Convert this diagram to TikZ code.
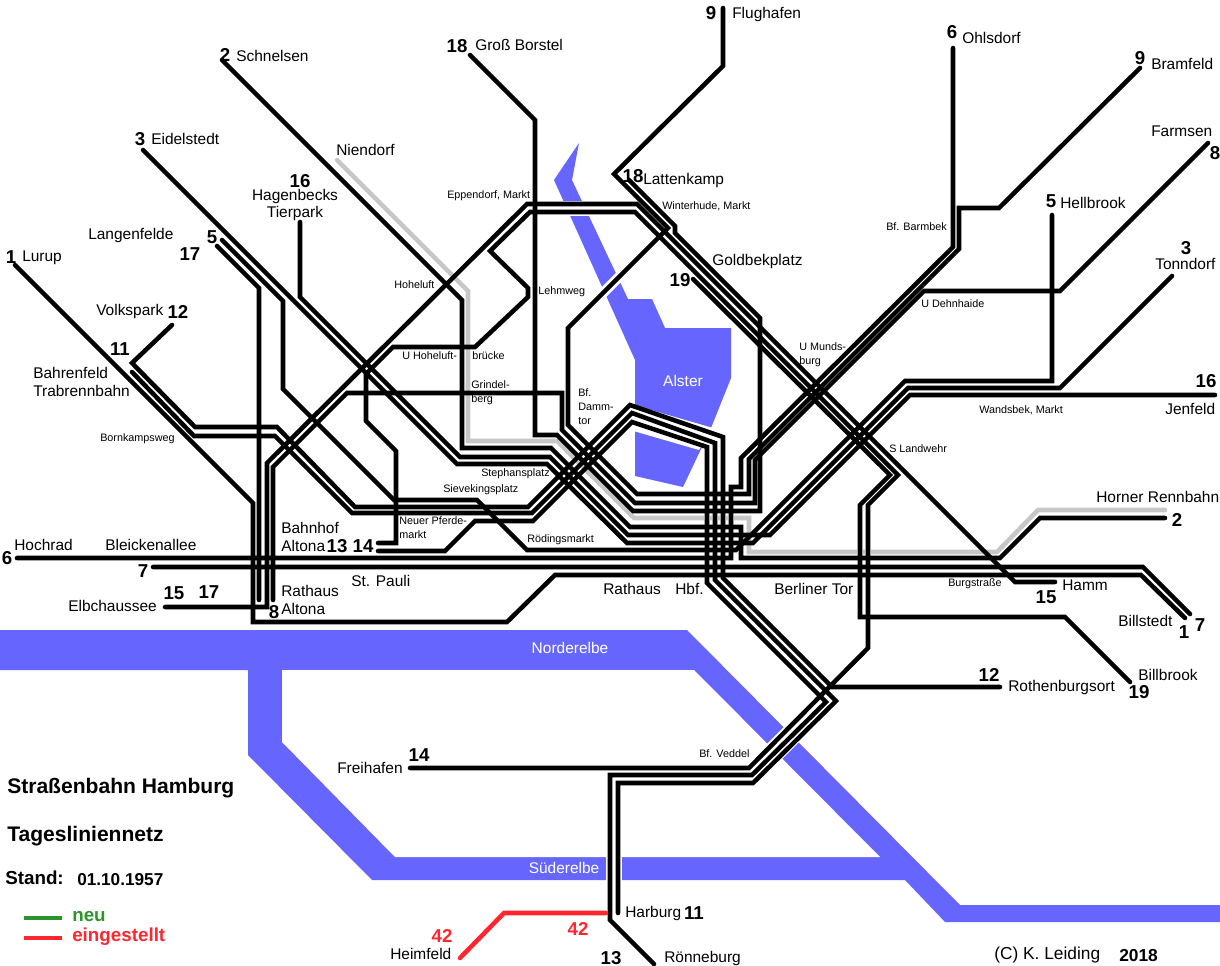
\documentclass[tikz,border=0pt]{standalone}
\usepackage{fontspec}
\setmainfont{Liberation Sans}
\definecolor{elbe}{RGB}{102,102,255}
\definecolor{neugruen}{RGB}{42,150,42}
\definecolor{altrot}{RGB}{255,38,46}
\begin{document}
\begin{tikzpicture}[x=0.75pt,y=-0.75pt,line join=miter]
  \tikzstyle{tram}=[draw=black,line width=3.4pt,line cap=round]
  \tikzstyle{gone}=[draw=black!22,line width=3.4pt,line cap=round]
  \tikzstyle{halo}=[draw=white,line width=4.9pt]
  \tikzstyle{river}=[fill=elbe,draw=none]
  \tikzstyle{gap}=[draw=white]
  \tikzstyle{stop}=[inner sep=0pt,anchor=west,align=left,font=\fontsize{11.6}{13.2}\selectfont]
  \tikzstyle{halt}=[inner sep=0pt,anchor=west,align=left,font=\fontsize{8.1}{10.5}\selectfont]
  \tikzstyle{num}=[inner sep=0pt,font=\bfseries\fontsize{14}{14}\selectfont]
  \tikzstyle{water}=[inner sep=0pt,text=white,font=\fontsize{11.6}{13}\selectfont]
  \tikzstyle{headline}=[inner sep=0pt,anchor=west,font=\bfseries\fontsize{15.8}{16}\selectfont]
  \useasboundingbox (0,0) rectangle (1220,966);
  \fill[white] (0,0) rectangle (1220,966);
  \fill[river] (0,630) -- (687,630) -- (960,905) -- (1220,905) -- (1220,922) -- (945,922) -- (905,880) -- (372,880) -- (248,755) -- (248,670) -- (0,670) -- cycle;
  \fill[white] (282,670) -- (694,670) -- (880,857) -- (395,857) -- (282,742) -- cycle;
  \fill[river] (579,143) -- (554,180) -- (635,360) -- (635,476) -- (683,487) -- (711,428) -- (731,378) -- (731,328) -- (665,328) -- (652,299) -- (628,299) -- (572,180) -- cycle;
  \fill[white] (630,404) -- (713,428) -- (699,450) -- (630,430) -- cycle;
  \draw[gap,line width=11.2pt] (545,208.5) -- (600,208.5);
  \draw[gap,line width=7.5pt] (585,311) -- (635,261);
  \draw[gap,line width=12pt] (614,850) -- (614,885);
  \draw[gap,line width=16pt] (805,721) -- (755,771);
  \node[water] (norderelbe) at (570,648) {Norderelbe};
  \node[water] (suederelbe) at (564,868) {Süderelbe};
  \node[water] (alster) at (683,381) {Alster};
  \draw[gone] (337,160) -- (468,291) -- (468,441) -- (557,441) -- (634,518) -- (749,518) -- (749,552) -- (997,552) -- (1038,510) -- (1165,510);
  \draw[halo] (707,512) -- (707,524);
  \draw[halo] (715,512) -- (715,524);
  \draw[halo] (723,512) -- (723,524);
  \draw[halo] (731,512) -- (731,524);
  \draw[halo] (860,546) -- (860,558);
  \draw[halo] (868,546) -- (868,558);
  \coordinate (lurup) at (15,265);
  \coordinate (billstedt) at (1185,618);
  \coordinate (schnelsen) at (222,60);
  \coordinate (horn) at (1165,518);
  \coordinate (eidelstedt) at (143,150);
  \coordinate (tonndorf) at (1172,276);
  \coordinate (langenfelde) at (217,246);
  \coordinate (rathausalt) at (259,600);
  \coordinate (funf) at (222,240);
  \coordinate (hellbrook) at (1052,215);
  \coordinate (hochrad) at (17,558);
  \coordinate (ohlsdorf) at (953,48);
  \coordinate (sieben) at (153,567);
  \coordinate (siebenost) at (1190,614);
  \coordinate (acht) at (273,600);
  \coordinate (farmsen) at (1208,143);
  \coordinate (flughafen) at (723,8);
  \coordinate (bramfeld) at (1140,68);
  \coordinate (volkspark) at (172,325);
  \coordinate (rothenburg) at (1000,687);
  \coordinate (trabrenn) at (132,372);
  \coordinate (harburg) at (618,913);
  \coordinate (bahnhofa) at (378,543);
  \coordinate (freihafen) at (410,768);
  \coordinate (bahnhofb) at (378,551);
  \coordinate (roenneburg) at (654,964);
  \coordinate (elbchaussee) at (165,607);
  \coordinate (hamm) at (1055,582);
  \coordinate (hagenbeck) at (300,222);
  \coordinate (jenfeld) at (1215,395);
  \coordinate (borstel) at (470,55);
  \coordinate (lattenkamp) at (629,180);
  \coordinate (goldbek) at (693,279);
  \coordinate (billbrook) at (1130,682);
  \coordinate (heimfeld) at (460,958);
  \coordinate (harburgrot) at (606,913);
  \draw[tram] (lurup) -- (253,503) -- (253,622) -- (507,622) -- (555,575) -- (1141,575) -- (billstedt);
  \draw[tram] (schnelsen) -- (462,300) -- (462,448) -- (551,448) -- (630,527) -- (741,527) -- (741,558) -- (1000,558) -- (1040,518) -- (horn);
  \draw[tram] (eidelstedt) -- (457,464) -- (547,464) -- (627,543) -- (753,543) -- (908,388) -- (1060,388) -- (tonndorf);
  \draw[tram] (langenfelde) -- (259,288) -- (rathausalt);
  \draw[tram] (funf) -- (283,301) -- (283,389) -- (394,500) -- (477,500) -- (527,550) -- (736,550) -- (905,381) -- (1052,381) -- (hellbrook);
  \draw[tram] (hochrad) -- (731,558) -- (731,487) -- (741,487) -- (741,458) -- (953,247) -- (ohlsdorf);
  \draw[tram] (sieben) -- (1143,567) -- (siebenost);
  \draw[tram] (acht) -- (273,467) -- (347,393) -- (562,393) -- (562,430) -- (635,503) -- (755,503) -- (755,460) -- (924,291) -- (1060,291) -- (farmsen);
  \draw[tram] (flughafen) -- (723,66) -- (614,174) -- (668,228) -- (568,328) -- (568,425) -- (637,494) -- (749,494) -- (749,459) -- (959,249) -- (959,208) -- (999,208) -- (bramfeld);
  \draw[tram] (volkspark) -- (132,363) -- (195,427) -- (277,427) -- (355,507) -- (528,507) -- (630,405) -- (723,437) -- (723,578) -- (832,687) -- (rothenburg);
  \draw[tram] (trabrenn) -- (194,436) -- (275,436) -- (352,513) -- (532,513) -- (632,413) -- (715,443) -- (715,580) -- (836,701) -- (753,783) -- (618,783) -- (harburg);
  \draw[tram] (bahnhofa) -- (396,543) -- (396,451) -- (366,421) -- (366,374) -- (393,347) -- (475,347) -- (528,297) -- (528,288) -- (490,251) -- (530,212) -- (635,212) -- (898,475) -- (868,505) -- (868,648) -- (749,768) -- (freihafen);
  \draw[tram] (bahnhofb) -- (445,551) -- (475,521) -- (533,521) -- (632,422) -- (707,447) -- (707,583) -- (826,702) -- (752,775) -- (610,775) -- (610,920) -- (roenneburg);
  \draw[tram] (elbchaussee) -- (267,607) -- (267,463) -- (527,204) -- (637,204) -- (1015,582) -- (hamm);
  \draw[tram] (hagenbeck) -- (300,297) -- (460,457) -- (550,457) -- (628,535) -- (770,535) -- (910,395) -- (jenfeld);
  \draw[tram] (borstel) -- (535,120) -- (535,435) -- (557,435) -- (633,511) -- (760,511) -- (760,318) -- (675,233) -- (675,226) -- (lattenkamp);
  \draw[tram] (goldbek) -- (890,475) -- (860,505) -- (860,617) -- (1065,617) -- (billbrook);
  \draw[tram,draw=altrot] (heimfeld) -- (504,913) -- (harburgrot);
  \node[stop] (sFlughafen) at (732,15) {Flughafen};
  \node[stop] (sOhlsdorf) at (962,38) {Ohlsdorf};
  \node[stop] (sBramfeld) at (1151,64) {Bramfeld};
  \node[stop] (sFarmsen) at (1151,131) {Farmsen};
  \node[stop] (sHellbrook) at (1060,203) {Hellbrook};
  \node[stop] (sTonndorf) at (1155,264) {Tonndorf};
  \node[stop] (sBorstel) at (475,45) {Groß Borstel};
  \node[stop] (sSchnelsen) at (236,56) {Schnelsen};
  \node[stop] (sEidelstedt) at (151,139) {Eidelstedt};
  \node[stop] (sNiendorf) at (336,150) {Niendorf};
  \node[stop] (sLattenkamp) at (643,181) {Lattenkamp};
  \node[stop] (sGoldbek) at (712,262) {Goldbekplatz};
  \node[stop,align=center,anchor=center] (sHagenbeck) at (295,205) {Hagenbecks\\Tierpark};
  \node[stop] (sLangenfelde) at (88,236) {Langenfelde};
  \node[stop] (sLurup) at (22,258) {Lurup};
  \node[stop] (sVolkspark) at (96,312) {Volkspark};
  \node[stop] (sTrabrenn) at (33,382) {Bahrenfeld\\Trabrennbahn};
  \node[stop] (sBfAltona) at (281,537) {Bahnhof\\Altona};
  \node[stop] (sRathausAltona) at (281,600) {Rathaus\\Altona};
  \node[stop] (sHochrad) at (14,545) {Hochrad};
  \node[stop] (sBleicken) at (105,545) {Bleickenallee};
  \node[stop] (sPauli) at (351,581) {St. Pauli};
  \node[stop] (sElbchaussee) at (68,606) {Elbchaussee};
  \node[stop] (sRathaus) at (603,589) {Rathaus};
  \node[stop] (sHbf) at (675,589) {Hbf.};
  \node[stop] (sBerliner) at (774,589) {Berliner Tor};
  \node[stop] (sHamm) at (1062,585) {Hamm};
  \node[stop] (sJenfeld) at (1165,409) {Jenfeld};
  \node[stop] (sHorn) at (1096,497) {Horner Rennbahn};
  \node[stop] (sBillstedt) at (1118,621) {Billstedt};
  \node[stop] (sBillbrook) at (1138,675) {Billbrook};
  \node[stop] (sRothenburg) at (1008,687) {Rothenburgsort};
  \node[stop] (sFreihafen) at (337,768) {Freihafen};
  \node[stop] (sHarburg) at (625,913) {Harburg};
  \node[stop] (sRoenneburg) at (664,958) {Rönneburg};
  \node[stop] (sHeimfeld) at (390,954) {Heimfeld};
  \node[stop,font=\fontsize{13}{14}\selectfont] (sLeiding) at (994,955) {(C) K. Leiding};
  \node[halt] (hEppendorf) at (447,196) {Eppendorf, Markt};
  \node[halt] (hWinterhude) at (662,206) {Winterhude, Markt};
  \node[halt] (hBarmbek) at (886,227) {Bf. Barmbek};
  \node[halt] (hDehnhaide) at (921,304) {U Dehnhaide};
  \node[halt] (hMundsburg) at (799,355) {U Munds-\\burg};
  \node[halt] (hLehmweg) at (538,292) {Lehmweg};
  \node[halt] (hHoheluft) at (394,285) {Hoheluft};
  \node[halt] (hHoheluftbr) at (402,356) {U Hoheluft-};
  \node[halt,fill=white] (hBruecke) at (472,356) {brücke};
  \node[halt] (hGrindel) at (471,393) {Grindel-\\berg};
  \node[halt] (hDammtor) at (578,407) {Bf.\\Damm-\\tor};
  \node[halt] (hWandsbek) at (979,410) {Wandsbek, Markt};
  \node[halt] (hLandwehr) at (889,449) {S Landwehr};
  \node[halt] (hBornkamp) at (100,439) {Bornkampsweg};
  \node[halt] (hStephan) at (481,474) {Stephansplatz};
  \node[halt] (hSieveking) at (443,490) {Sievekingsplatz};
  \node[halt] (hPferdemarkt) at (399,528) {Neuer Pferde-\\markt};
  \node[halt] (hRoedings) at (527,540) {Rödingsmarkt};
  \node[halt] (hBurgstr) at (948,584) {Burgstraße};
  \node[halt] (hVeddel) at (699,754) {Bf. Veddel};
  \node[num] (nNeunA) at (711,13) {9};
  \node[num] (nSechsA) at (952,32) {6};
  \node[num] (nNeunB) at (1140,58) {9};
  \node[num] (nAchtA) at (1215,153) {8};
  \node[num] (nFuenfA) at (1051,201) {5};
  \node[num] (nDreiA) at (1186,248) {3};
  \node[num] (nAchtzehnA) at (457,46) {18};
  \node[num] (nZweiA) at (225,55) {2};
  \node[num] (nDreiB) at (140,139) {3};
  \node[num] (nSechzehnA) at (300,181) {16};
  \node[num] (nAchtzehnB) at (633,176) {18};
  \node[num] (nNeunzehnA) at (680,280) {19};
  \node[num] (nFuenfB) at (212,237) {5};
  \node[num] (nSiebzehnA) at (190,254) {17};
  \node[num] (nEinsA) at (11,257) {1};
  \node[num] (nZwoelfA) at (178,312) {12};
  \node[num] (nElfA) at (120,349) {11};
  \node[num] (nDreizehn) at (337,546) {13};
  \node[num] (nVierzehnA) at (363,546) {14};
  \node[num] (nFuenfzehnA) at (174,593) {15};
  \node[num] (nSiebzehnB) at (209,592) {17};
  \node[num] (nAchtB) at (274,612) {8};
  \node[num] (nSechsB) at (7,558) {6};
  \node[num] (nSiebenA) at (143,571) {7};
  \node[num] (nSechzehnB) at (1206,381) {16};
  \node[num] (nZweiB) at (1177,520) {2};
  \node[num] (nFuenfzehnB) at (1046,597) {15};
  \node[num] (nSiebenB) at (1200,625) {7};
  \node[num] (nEinsB) at (1184,632) {1};
  \node[num] (nZwoelfB) at (989,675) {12};
  \node[num] (nNeunzehnB) at (1139,692) {19};
  \node[num] (nVierzehnB) at (419,755) {14};
  \node[num] (nElfB) at (694,913) {11};
  \node[num] (nDreizehnB) at (611,958) {13};
  \node[num,text=altrot] (nRotA) at (442,936) {42};
  \node[num,text=altrot] (nRotB) at (578,929) {42};
  \node[headline] (title) at (7,788) {Straßenbahn Hamburg};
  \node[headline] (subtitle) at (7,836) {Tagesliniennetz};
  \node[headline,font=\bfseries\fontsize{14.1}{16}\selectfont] (stand) at (5,878) {Stand:};
  \node[headline,font=\bfseries\fontsize{12.9}{16}\selectfont] (datum) at (77,880) {01.10.1957};
  \node[headline,font=\bfseries\fontsize{13}{16}\selectfont] (jahr) at (1119,956) {2018};
  \coordinate (neuA) at (24,918);
  \coordinate (neuB) at (62,918);
  \coordinate (altA) at (24,938);
  \coordinate (altB) at (62,938);
  \draw[draw=neugruen,line width=3.6pt] (neuA) -- (neuB);
  \draw[draw=altrot,line width=3.6pt] (altA) -- (altB);
  \node[headline,text=neugruen,font=\bfseries\fontsize{14.1}{16}\selectfont] (neu) at (72,917) {neu};
  \node[headline,text=altrot,font=\bfseries\fontsize{14.1}{16}\selectfont] (eingestellt) at (72,937) {eingestellt};
\end{tikzpicture}
\end{document}
